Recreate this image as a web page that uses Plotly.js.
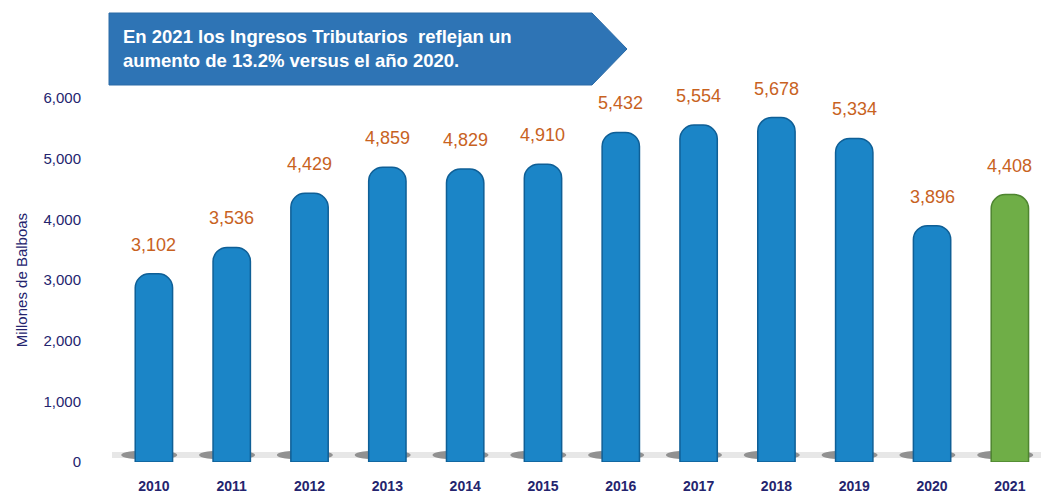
<!DOCTYPE html>
<html>
<head>
<meta charset="utf-8">
<script src="https://cdn.plot.ly/plotly-3.0.1.min.js"></script>
<style>html,body{margin:0;padding:0;background:#fff;}#chart{width:1041px;height:493px;}</style>
</head>
<body>
<div id="chart"></div>
<script>
const years = ['2010','2011','2012','2013','2014','2015','2016','2017','2018','2019','2020','2021'];
const values = [3102, 3536, 4429, 4859, 4829, 4910, 5432, 5554, 5678, 5334, 3896, 4408];
const valueLabels = ['3,102','3,536','4,429','4,859','4,829','4,910','5,432','5,554','5,678','5,334','3,896','4,408'];
const barColors = ['#1B85C7','#1B85C7','#1B85C7','#1B85C7','#1B85C7','#1B85C7','#1B85C7','#1B85C7','#1B85C7','#1B85C7','#1B85C7','#6FAE47'];
const barEdges = ['#0F5F96','#0F5F96','#0F5F96','#0F5F96','#0F5F96','#0F5F96','#0F5F96','#0F5F96','#0F5F96','#0F5F96','#0F5F96','#4E8530'];
const yTicks = [0,1000,2000,3000,4000,5000,6000];
const yTickText = ['0','1,000','2,000','3,000','4,000','5,000','6,000'];
const bannerLines = ['En 2021 los Ingresos Tributarios  reflejan un', 'aumento de 13.2% versus el año 2020.'];

const navy = '#24246E';
const font = 'Liberation Sans, Arial, sans-serif';

const traces = [{
  type: 'bar',
  x: years,
  y: values,
  width: 0.48,
  marker: {color: barColors, line: {color: barEdges, width: 1.5}, cornerradius: 14},
  text: valueLabels,
  textposition: 'none',
  hoverinfo: 'x+y'
}];

const annotations = values.map((v, i) => ({
  x: i, y: v, xref: 'x', yref: 'y',
  text: valueLabels[i], showarrow: false, yanchor: 'bottom', yshift: 17,
  font: {family: font, size: 18, color: '#C8621F'}
}));

function px(x){ return (x - 115) / 926; }
function py(y){ return (462 - y) / 364; }

// banner text
annotations.push({
  xref: 'paper', yref: 'paper',
  x: px(121), y: py(48),
  xanchor: 'left', yanchor: 'middle', align: 'left', showarrow: false,
  text: '<b>' + bannerLines.join('<br>') + '</b>',
  font: {family: font, size: 18.5, color: '#FFFFFF'}
});

const shapes = [
  {
    type: 'path', xref: 'paper', yref: 'paper',
    path: `M ${px(109)},${py(13)} L ${px(592)},${py(13)} L ${px(627)},${py(49)} L ${px(592)},${py(85)} L ${px(109)},${py(85)} Z`,
    fillcolor: '#2E74B5', line: {color: '#2A6AA6', width: 1}, layer: 'above'
  },
  {
    type: 'rect', xref: 'paper', yref: 'paper',
    x0: px(112), x1: px(1041), y0: py(458), y1: py(452),
    fillcolor: 'rgba(120,120,120,0.18)', line: {width: 0}, layer: 'below'
  }
];
// soft shadow under each bar
values.forEach((v, i) => {
  shapes.push({
    type: 'circle', xref: 'x', yref: 'paper',
    x0: i - 0.42, x1: i + 0.3, y0: py(460), y1: py(450),
    fillcolor: 'rgba(40,40,40,0.45)', line: {width: 0}, layer: 'below'
  });
});

const layout = {
  width: 1041, height: 493,
  margin: {l: 115, r: 0, t: 98, b: 31},
  paper_bgcolor: '#FFFFFF', plot_bgcolor: '#FFFFFF',
  showlegend: false,
  xaxis: {
    type: 'category',
    range: [-0.5, 11.4],
    showgrid: false, zeroline: false, showline: false,
    ticks: 'outside', ticklen: 11, tickcolor: 'rgba(0,0,0,0)',
    tickfont: {family: font, size: 14, color: navy, weight: 'bold'}
  },
  yaxis: {
    range: [0, 6000],
    tickvals: yTicks, ticktext: yTickText,
    showgrid: false, zeroline: false, showline: false,
    ticks: 'outside', ticklen: 30, tickcolor: 'rgba(0,0,0,0)',
    tickfont: {family: font, size: 15, color: navy},
    title: {text: 'Millones de Balboas', font: {family: font, size: 15, color: navy}, standoff: 12}
  },
  annotations: annotations,
  shapes: shapes
};

Plotly.newPlot('chart', traces, layout, {displayModeBar: false, staticPlot: true});
</script>
</body>
</html>
